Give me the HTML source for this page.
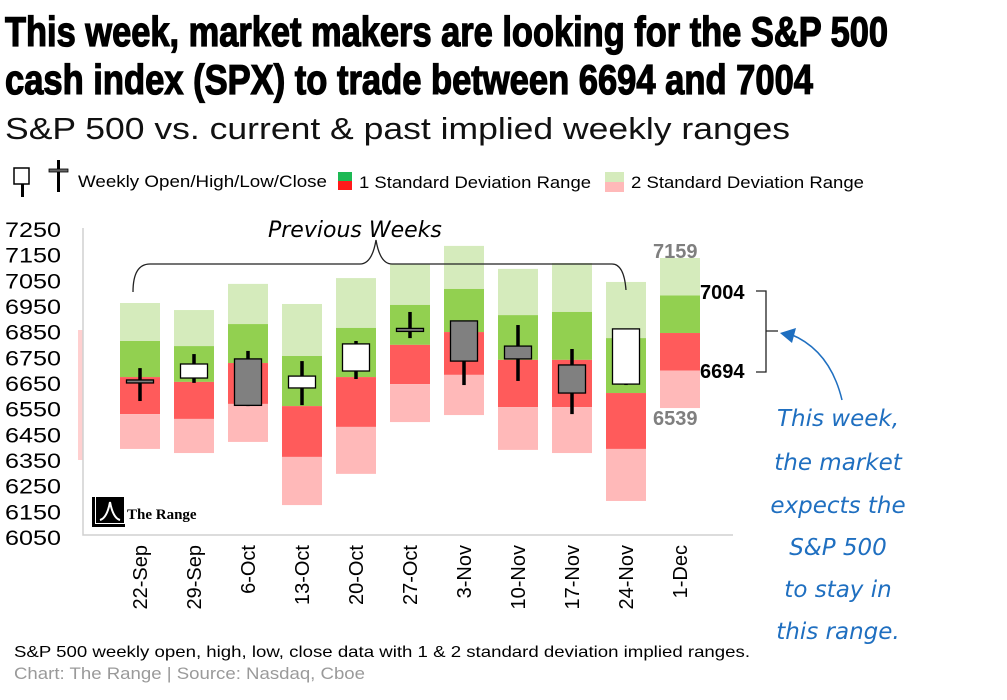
<!DOCTYPE html>
<html><head><meta charset="utf-8"><style>
html,body{margin:0;padding:0;background:#fff;}
svg{display:block;font-family:"Liberation Sans",sans-serif;}
</style></head><body>
<svg id="chart" width="1007" height="700" viewBox="0 0 1007 700" xmlns="http://www.w3.org/2000/svg">
<text x="5" y="46" font-family="Liberation Sans Narrow, Liberation Sans, sans-serif" font-weight="bold" font-size="42" stroke="#000" stroke-width="1.3" textLength="883" lengthAdjust="spacingAndGlyphs">This week, market makers are looking for the S&amp;P 500</text>
<text x="5" y="94" font-family="Liberation Sans Narrow, Liberation Sans, sans-serif" font-weight="bold" font-size="42" stroke="#000" stroke-width="1.3" textLength="808" lengthAdjust="spacingAndGlyphs">cash index (SPX) to trade between  6694 and 7004</text>
<text x="5" y="139" font-size="31" textLength="785" lengthAdjust="spacingAndGlyphs" fill="#111">S&amp;P 500 vs. current &amp; past implied weekly ranges</text>
<g>
<rect x="14" y="168" width="15" height="16" fill="#fff" stroke="#000" stroke-width="1.5"/>
<rect x="21" y="184" width="3" height="13" fill="#000"/>
<rect x="57" y="160" width="3" height="32" fill="#000"/>
<rect x="49" y="169" width="19" height="3" fill="#666" stroke="#000" stroke-width="0.8"/>
<text x="78" y="187" font-size="17" textLength="249" lengthAdjust="spacingAndGlyphs">Weekly Open/High/Low/Close</text>
<rect x="338" y="172" width="14" height="9" fill="#1db954"/>
<rect x="338" y="181" width="14" height="9" fill="#ff1a1a"/>
<text x="359" y="188" font-size="17" textLength="232" lengthAdjust="spacingAndGlyphs">1 Standard Deviation Range</text>
<rect x="605" y="172" width="19" height="10" fill="#d5ebbc"/>
<rect x="605" y="182" width="19" height="10" fill="#ffb9b9"/>
<text x="631" y="188" font-size="17" textLength="233" lengthAdjust="spacingAndGlyphs">2 Standard Deviation Range</text>
</g>
<rect x="78" y="330" width="5" height="130" fill="#ffd0d0"/>
<polyline points="83,228 83,535 733,535" fill="none" stroke="#d0d0d0" stroke-width="1.5"/>
<g id="yaxis"></g>
<g id="bars"></g>
<g id="candles"></g>
<g id="xaxis"></g>
<path d="M133,292 Q133,264 150,264 L360,264 Q372,264 376,240 Q380,264 392,264 L612,264 Q624,264 626,290" fill="none" stroke="#222" stroke-width="1.3"/>
<text x="268" y="237" font-family="DejaVu Sans, sans-serif" font-style="italic" font-size="22">Previous Weeks</text>
<text x="653" y="258" font-size="20" font-weight="bold" fill="#7f7f7f">7159</text>
<text x="700" y="299" font-size="20" font-weight="bold">7004</text>
<text x="700" y="378" font-size="20" font-weight="bold">6694</text>
<text x="653" y="425" font-size="20" font-weight="bold" fill="#7f7f7f">6539</text>
<path d="M756,291 L766,291 L766,331 L778,331 M766,331 L766,372 L756,372" fill="none" stroke="#222" stroke-width="1.3"/>
<path d="M842,400 Q830,350 790,334" fill="none" stroke="#1f6fc0" stroke-width="1.5"/>
<polygon points="780,333 796,328 792,343" fill="#1f6fc0"/>
<g font-family="DejaVu Sans, sans-serif" font-style="italic" font-size="23" fill="#1f6fc0" text-anchor="middle">
<text x="838" y="426">This week,</text>
<text x="838" y="470">the market</text>
<text x="838" y="513">expects the</text>
<text x="838" y="555">S&amp;P 500</text>
<text x="838" y="597">to stay in</text>
<text x="838" y="639">this range.</text>
</g>
<g>
<rect x="92" y="497" width="3" height="30" fill="#000"/>
<rect x="92" y="524" width="33" height="3" fill="#000"/>
<rect x="96" y="497" width="28" height="26" fill="#000"/>
<path d="M100,520 Q107,518 110,502 Q113,518 120,520" fill="none" stroke="#fff" stroke-width="2"/>
<text x="127" y="519" font-family="Liberation Serif, serif" font-weight="bold" font-size="15">The Range</text>
</g>
<text x="14" y="657" font-size="16" textLength="736" lengthAdjust="spacingAndGlyphs">S&amp;P 500 weekly open, high, low, close data with  1 &amp; 2 standard deviation implied ranges.</text>
<text x="14" y="679" font-size="17" textLength="351" lengthAdjust="spacingAndGlyphs" fill="#9a9a9a">Chart: The Range | Source: Nasdaq, Cboe</text>
</svg>
<script>
const weeks=["22-Sep","29-Sep","6-Oct","13-Oct","20-Oct","27-Oct","3-Nov","10-Nov","17-Nov","24-Nov","1-Dec"];
const sd2High=[6973,6944,7052,6969,7076,7136,7209,7114,7138,7060,7159];
const sd1High=[6816,6795,6886,6754,6870,6965,7031,6923,6936,6828,7004];
const midVals=[6667,6647,6725,6547,6667,6800,6853,6738,6738,6601,6849];
const sd1Low=[6514,6494,6556,6337,6461,6638,6676,6543,6543,6370,6694];
const sd2Low=[6370,6353,6399,6138,6267,6481,6510,6366,6353,6155,6539];
const openVals=[6655,6663,6742,6622,6692,6868,6899,6795,6717,6638,null];
const highVals=[6704,6762,6775,6733,6816,6936,6899,6882,6783,6866,null];
const lowVals=[6568,6643,6547,6551,6659,6828,6634,6651,6514,6634,null];
const closeVals=[6643,6721,6550,6671,6804,6862,6733,6742,6601,6866,null];
const yTicks=[7250,7150,7050,6950,6850,6750,6650,6550,6450,6350,6250,6150,6050];
const NS="http://www.w3.org/2000/svg";
function y(v){return 258+(7159-v)*0.242;}
function x(i){return 140+i*54;}
function mk(tag,attrs,parent){const e=document.createElementNS(NS,tag);for(const k in attrs)e.setAttribute(k,attrs[k]);parent.appendChild(e);return e;}
const ya=document.getElementById('yaxis');
yTicks.forEach((t,i)=>{
 const e=mk('text',{x:5,y:237+i*25.67,'font-size':21,textLength:56,lengthAdjust:'spacingAndGlyphs'},ya);
 e.textContent=t;
 
 
});
const bars=document.getElementById('bars');
weeks.forEach((w,i)=>{
 const bx=x(i)-20;
 const segs=[[sd2High[i],sd1High[i],'#d5ebbc'],[sd1High[i],midVals[i],'#92d050'],[midVals[i],sd1Low[i],'#ff5b5b'],[sd1Low[i],sd2Low[i],'#ffb9b9']];
 const names=['2sd-upper','1sd-upper','1sd-lower','2sd-lower'];
 segs.forEach((s,j)=>{
  const r=mk('rect',{x:bx,y:y(s[0]),width:40,height:y(s[1])-y(s[0]),fill:s[2]},bars);
  
  
 });
});
const cg=document.getElementById('candles');
weeks.forEach((w,i)=>{
 if(openVals[i]==null)return;
 const cx=x(i);
 const l=mk('rect',{x:cx-1.75,y:y(highVals[i]),width:3.5,height:y(lowVals[i])-y(highVals[i]),fill:'#000'},cg);
 
 
 const top=Math.max(openVals[i],closeVals[i]),bot=Math.min(openVals[i],closeVals[i]);
 const h=Math.max(3,y(bot)-y(top));
 const b=mk('rect',{x:cx-13.5,y:y(top),width:27,height:h,fill:closeVals[i]>=openVals[i]?'#fff':'#808080',stroke:'#000','stroke-width':1.3},cg);
 
 
});
const xa=document.getElementById('xaxis');
weeks.forEach((w,i)=>{
 const t=mk('text',{x:0,y:0,'font-size':20,'text-anchor':'end',transform:'translate('+(x(i)+7)+',545) rotate(-90)'},xa);
 t.textContent=w;
 
 
});
</script>
</body></html>
